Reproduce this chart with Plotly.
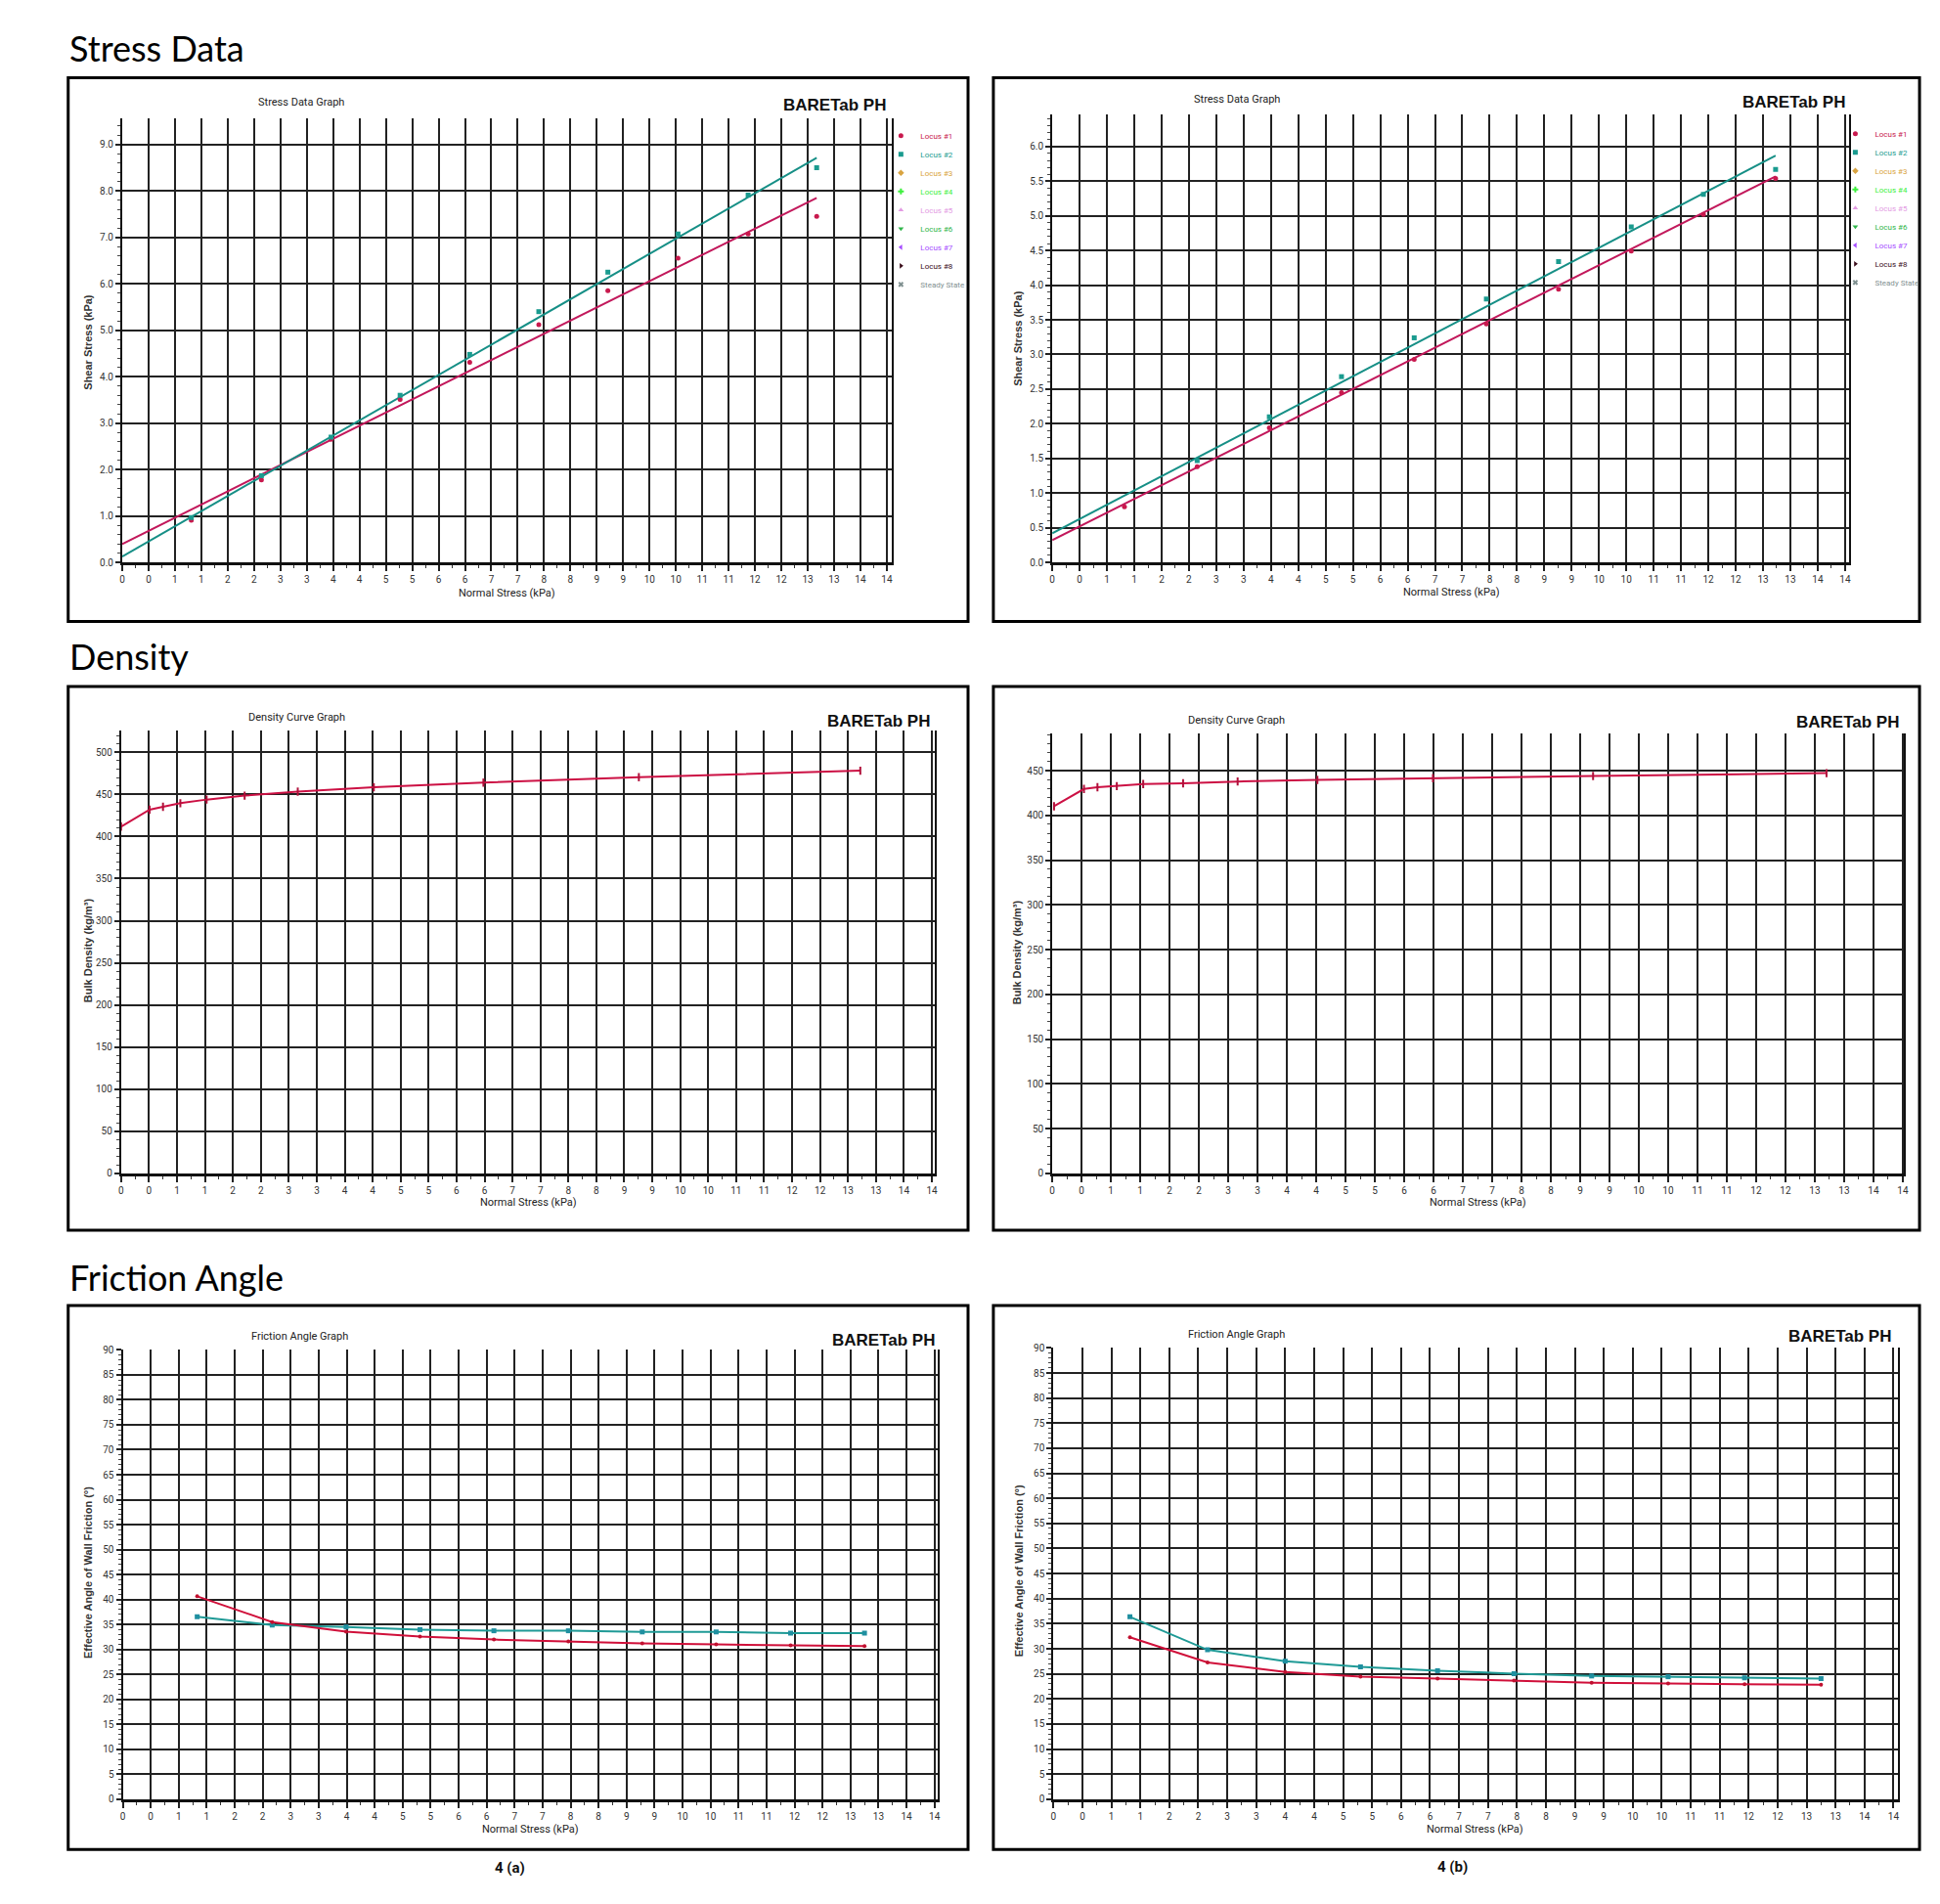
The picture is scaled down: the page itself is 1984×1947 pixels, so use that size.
import plotly.graph_objects as go

W, H = 1984, 1947

# ---------------- data ----------------
x_tick_vals = [0, 0.5, 1, 1.5, 2, 2.5, 3, 3.5, 4, 4.5, 5, 5.5, 6, 6.5, 7, 7.5,
               8, 8.5, 9, 9.5, 10, 10.5, 11, 11.5, 12, 12.5, 13, 13.5, 14, 14.5]
x_tick_text = ["0", "0", "1", "1", "2", "2", "3", "3", "4", "4", "5", "5", "6", "6", "7", "7",
               "8", "8", "9", "9", "10", "10", "11", "11", "12", "12", "13", "13", "14", "14"]
x_minor_vals = [0.25, 0.75, 1.25, 1.75, 2.25, 2.75, 3.25, 3.75, 4.25, 4.75, 5.25, 5.75,
                6.25, 6.75, 7.25, 7.75, 8.25, 8.75, 9.25, 9.75, 10.25, 10.75, 11.25,
                11.75, 12.25, 12.75, 13.25, 13.75, 14.25]

# Stress data 4(a)
sa_x = [1.31, 2.64, 3.96, 5.27, 6.59, 7.90, 9.21, 10.54, 11.87, 13.17]
sa_locus1 = [0.91, 1.78, 2.65, 3.51, 4.31, 5.12, 5.85, 6.55, 7.07, 7.45]
sa_locus2 = [0.97, 1.87, 2.70, 3.60, 4.48, 5.40, 6.25, 7.07, 7.91, 8.50]
sa_fit_x = [0, 13.17]
sa_fit1 = [0.40, 7.85]
sa_fit2 = [0.13, 8.71]

# Stress data 4(b)
sb_x = [1.32, 2.65, 3.97, 5.29, 6.62, 7.94, 9.26, 10.59, 11.91, 13.23]
sb_locus1 = [0.80, 1.38, 1.94, 2.45, 2.93, 3.44, 3.94, 4.49, 5.02, 5.54]
sb_locus2 = [None, 1.47, 2.10, 2.68, 3.24, 3.80, 4.34, 4.84, 5.31, 5.67]
sb_fit_x = [0, 13.23]
sb_fit1 = [0.32, 5.57]
sb_fit2 = [0.42, 5.87]

# Density 4(a) / 4(b)
da_x = [0, 0.51, 0.75, 1.06, 1.53, 2.21, 3.16, 4.52, 6.48, 9.26, 13.22]
da_y = [411.8, 431.9, 435.4, 439.6, 443.9, 448.6, 453.3, 458.5, 464.0, 470.5, 478.2]
db_x = [0.03, 0.54, 0.77, 1.10, 1.55, 2.23, 3.16, 4.52, 6.49, 9.22, 13.20]
db_y = [410.2, 429.5, 431.5, 432.7, 435.1, 435.9, 437.9, 439.6, 441.6, 444.0, 447.2]

# Friction angle 4(a) / 4(b)
fa_x = [1.33, 2.67, 3.99, 5.31, 6.63, 7.96, 9.28, 10.60, 11.93, 13.25]
fa_red = [40.65, 35.49, 33.59, 32.60, 31.99, 31.61, 31.23, 31.00, 30.85, 30.70]
fa_teal = [36.55, 34.88, 34.50, 33.97, 33.74, 33.74, 33.51, 33.51, 33.28, 33.28]
fb_x = [1.32, 2.66, 4.00, 5.30, 6.63, 7.95, 9.29, 10.61, 11.93, 13.25]
fb_teal = [36.38, 29.80, 27.54, 26.40, 25.64, 25.04, 24.58, 24.43, 24.20, 24.05]
fb_red = [32.30, 27.30, 25.40, 24.43, 24.05, 23.68, 23.22, 23.07, 22.92, 22.84]

legend_names = ["Locus #1", "Locus #2", "Locus #3", "Locus #4", "Locus #5",
                "Locus #6", "Locus #7", "Locus #8", "Steady State"]
legend_colors = ["#c8194d", "#1a9b8f", "#d9a441", "#3cf03c", "#e39be3",
                 "#2fb54a", "#a64dff", "#3a0d1a", "#7f9090"]
legend_symbols = ["circle", "square", "diamond", "cross", "triangle-up",
                  "triangle-down", "triangle-left", "triangle-right", "x"]

# ---------------- styling helpers ----------------
NARROW = "Roboto, Liberation Sans Narrow, sans-serif"
ARIAL = "Liberation Sans, Arial, sans-serif"
RED = "#c8194d"
TEAL = "#1a9b8f"
GRID = "#222222"


def dom_x(a, b):
    return [a / W, b / W]


def dom_y(top, bottom):
    return [1 - bottom / H, 1 - top / H]


def colored(name, color):
    return "<span style='color:%s'>%s</span>" % (color, name)


fig = go.Figure()

panels = {
    1: dict(xd=(122.5, 913), yd=(116.7, 573.5), xr=[0, 14.6], yr=[0, 9.56], dt=1, fmt=".1f", mn=0.2),
    2: dict(xd=(1077.5, 1896), yd=(112.9, 573.3), xr=[0, 14.58], yr=[0, 6.46], dt=0.5, fmt=".1f", mn=0.1),
    3: dict(xd=(121.3, 957.3), yd=(746.4, 1201.7), xr=[0, 14.56], yr=[0, 525.7], dt=50, fmt="d", mn=10),
    4: dict(xd=(1077.5, 1952), yd=(749.3, 1201.7), xr=[0, 14.52], yr=[0, 491.5], dt=50, fmt="d", mn=10),
    5: dict(xd=(123, 960), yd=(1383.2, 1845.3), xr=[0, 14.56], yr=[0, 90], dt=5, fmt="d", mn=1),
    6: dict(xd=(1078.7, 1946), yd=(1381.2, 1845.3), xr=[0, 14.58], yr=[0, 90], dt=5, fmt="d", mn=1),
}

layout_axes = {}
for i, p in panels.items():
    sx = "" if i == 1 else str(i)
    layout_axes["xaxis" + sx] = dict(
        domain=dom_x(*p["xd"]), range=p["xr"], anchor="y" + sx,
        tickmode="array", tickvals=x_tick_vals, ticktext=x_tick_text,
        ticks="outside", ticklen=6, tickwidth=1.5, tickcolor="#222",
        minor=dict(ticks="outside", ticklen=3, tickwidth=1, tickcolor="#333",
                   tickmode="array", tickvals=x_minor_vals, showgrid=False),
        showgrid=True, gridcolor=GRID, gridwidth=2,
        showline=True, linecolor="#111", linewidth=2.5, mirror=False,
        zeroline=False, tickfont=dict(family=NARROW, size=10, color="#333"),
        fixedrange=True,
    )
    layout_axes["yaxis" + sx] = dict(
        domain=dom_y(*p["yd"]), range=p["yr"], anchor="x" + sx,
        dtick=p["dt"], tick0=0, tickformat=p["fmt"],
        ticks="outside", ticklen=5, tickwidth=1.5, tickcolor="#222",
        minor=dict(ticks="outside", ticklen=3, tickwidth=1, tickcolor="#444",
                   dtick=p["mn"], showgrid=False),
        showgrid=True, gridcolor=GRID, gridwidth=2,
        showline=True, linecolor="#111", linewidth=2, mirror=True,
        zeroline=False, tickfont=dict(family=NARROW, size=10, color="#333"),
        fixedrange=True,
    )

# ---------------- traces ----------------
# Stress Data (a)
fig.add_trace(go.Scatter(x=sa_fit_x, y=sa_fit1, mode="lines", line=dict(color="#c2185b", width=2),
                         showlegend=False, xaxis="x", yaxis="y", hoverinfo="skip"))
fig.add_trace(go.Scatter(x=sa_fit_x, y=sa_fit2, mode="lines", line=dict(color="#168f86", width=2),
                         showlegend=False, xaxis="x", yaxis="y", hoverinfo="skip"))
fig.add_trace(go.Scatter(x=sa_x, y=sa_locus1, mode="markers", name=colored("Locus #1", legend_colors[0]),
                         marker=dict(symbol="circle", size=5, color=RED), xaxis="x", yaxis="y",
                         legend="legend"))
fig.add_trace(go.Scatter(x=sa_x, y=sa_locus2, mode="markers", name=colored("Locus #2", legend_colors[1]),
                         marker=dict(symbol="square", size=5, color=TEAL), xaxis="x", yaxis="y",
                         legend="legend"))
for nm, col, sym in zip(legend_names[2:], legend_colors[2:], legend_symbols[2:]):
    fig.add_trace(go.Scatter(x=[None], y=[None], mode="markers", name=colored(nm, col),
                             marker=dict(symbol=sym, size=5, color=col), xaxis="x", yaxis="y",
                             legend="legend"))

# Stress Data (b)
fig.add_trace(go.Scatter(x=sb_fit_x, y=sb_fit1, mode="lines", line=dict(color="#c2185b", width=2),
                         showlegend=False, xaxis="x2", yaxis="y2", hoverinfo="skip"))
fig.add_trace(go.Scatter(x=sb_fit_x, y=sb_fit2, mode="lines", line=dict(color="#168f86", width=2),
                         showlegend=False, xaxis="x2", yaxis="y2", hoverinfo="skip"))
fig.add_trace(go.Scatter(x=sb_x, y=sb_locus1, mode="markers", name=colored("Locus #1", legend_colors[0]),
                         marker=dict(symbol="circle", size=5, color=RED), xaxis="x2", yaxis="y2",
                         legend="legend2"))
fig.add_trace(go.Scatter(x=sb_x, y=sb_locus2, mode="markers", name=colored("Locus #2", legend_colors[1]),
                         marker=dict(symbol="square", size=5, color=TEAL), xaxis="x2", yaxis="y2",
                         legend="legend2"))
for nm, col, sym in zip(legend_names[2:], legend_colors[2:], legend_symbols[2:]):
    fig.add_trace(go.Scatter(x=[None], y=[None], mode="markers", name=colored(nm, col),
                             marker=dict(symbol=sym, size=5, color=col), xaxis="x2", yaxis="y2",
                             legend="legend2"))

# Density
dens_marker = dict(symbol="line-ns-open", size=6, color="#b0103a", line=dict(width=2, color="#b0103a"))
fig.add_trace(go.Scatter(x=da_x, y=da_y, mode="lines+markers", line=dict(color="#cc1144", width=2),
                         marker=dens_marker, showlegend=False, xaxis="x3", yaxis="y3"))
fig.add_trace(go.Scatter(x=db_x, y=db_y, mode="lines+markers", line=dict(color="#cc1144", width=2),
                         marker=dens_marker, showlegend=False, xaxis="x4", yaxis="y4"))

# Friction angle
fig.add_trace(go.Scatter(x=fa_x, y=fa_teal, mode="lines+markers", line=dict(color="#1f9a96", width=2),
                         marker=dict(symbol="square", size=5, color="#1f8fa0"),
                         showlegend=False, xaxis="x5", yaxis="y5"))
fig.add_trace(go.Scatter(x=fa_x, y=fa_red, mode="lines+markers", line=dict(color="#d0103a", width=2),
                         marker=dict(symbol="circle", size=4, color="#c0102f"),
                         showlegend=False, xaxis="x5", yaxis="y5"))
fig.add_trace(go.Scatter(x=fb_x, y=fb_teal, mode="lines+markers", line=dict(color="#1f9a96", width=2),
                         marker=dict(symbol="square", size=5, color="#1f8fa0"),
                         showlegend=False, xaxis="x6", yaxis="y6"))
fig.add_trace(go.Scatter(x=fb_x, y=fb_red, mode="lines+markers", line=dict(color="#d0103a", width=2),
                         marker=dict(symbol="circle", size=4, color="#c0102f"),
                         showlegend=False, xaxis="x6", yaxis="y6"))

# ---------------- boxes, headings, labels ----------------
boxes = [(67, 75, 991, 634), (1017, 75, 1968, 634),
         (67, 701, 991, 1260), (1017, 701, 1968, 1260),
         (67, 1337.5, 991, 1897), (1017, 1337.5, 1968, 1897)]
shapes = []
for (x0, y0, x1, y1) in boxes:
    shapes.append(dict(type="rect", xref="paper", yref="paper",
                       x0=x0 / W, x1=x1 / W, y0=1 - y0 / H, y1=1 - y1 / H,
                       line=dict(color="black", width=3), fillcolor="rgba(0,0,0,0)", layer="below"))

annotations = []


def ann(text, x, y, size, family, xanchor="center", bold=False, color="#111", angle=0):
    annotations.append(dict(text=("<b>%s</b>" % text) if bold else text,
                            x=x / W, y=1 - y / H, xref="paper", yref="paper",
                            xanchor=xanchor, yanchor="middle", showarrow=False, textangle=angle,
                            font=dict(family=family, size=size, color=color)))


for txt, y in [("Stress Data", 44), ("Density", 670), ("Friction Angle", 1308)]:
    ann(txt, 66, y, 36, "Lato, Open Sans, sans-serif", xanchor="left", color="#000")

chart_titles = [("Stress Data Graph", 306, 100), ("Stress Data Graph", 1267, 97),
                ("Density Curve Graph", 302, 733), ("Density Curve Graph", 1267, 736),
                ("Friction Angle Graph", 305, 1369.5), ("Friction Angle Graph", 1267, 1367)]
for txt, x, y in chart_titles:
    ann(txt, x, y, 11, NARROW, color="#222")

brand = [(908.6, 103), (1893.4, 100.5), (954.3, 737), (1949, 738), (958.5, 1373.4), (1941, 1369.5)]
for x, y in brand:
    ann("BARETab PH", x, y, 17, ARIAL, xanchor="right", bold=True, color="#111")

xtitles = [(518, 605), (1487, 604), (540, 1231), (1514.5, 1231), (542, 1876), (1512, 1876)]
for x, y in xtitles:
    ann("Normal Stress (kPa)", x, y, 11, NARROW, color="#222")

ytitles = [("Shear Stress (kPa)", 87, 347), ("Shear Stress (kPa)", 1042, 343),
           ("Bulk Density (kg/m³)", 87, 972), ("Bulk Density (kg/m³)", 1042, 974),
           ("Effective Angle of Wall Friction (°)", 88, 1612.5),
           ("Effective Angle of Wall Friction (°)", 1043, 1610.6)]
for txt, x, y in ytitles:
    ann(txt, x, y, 11, ARIAL, bold=True, color="#333", angle=-90)

ann("4 (a)", 521, 1915.5, 15, NARROW, bold=True, color="#111")
ann("4 (b)", 1489, 1915, 15, NARROW, bold=True, color="#111")

legend_common = dict(xref="paper", yref="paper", xanchor="left", yanchor="top",
                     bgcolor="rgba(0,0,0,0)", borderwidth=0, itemsizing="trace",
                     font=dict(family=NARROW, size=8, color="#444"), tracegroupgap=0, itemwidth=30)

fig.update_layout(
    width=W, height=H, margin=dict(l=0, r=0, t=0, b=0),
    paper_bgcolor="white", plot_bgcolor="white",
    shapes=shapes, annotations=annotations,
    legend=dict(x=902 / W, y=1 - 120 / H, **legend_common),
    legend2=dict(x=1882 / W, y=1 - 118 / H, **legend_common),
    **layout_axes,
)

fig.write_html("out.html")
